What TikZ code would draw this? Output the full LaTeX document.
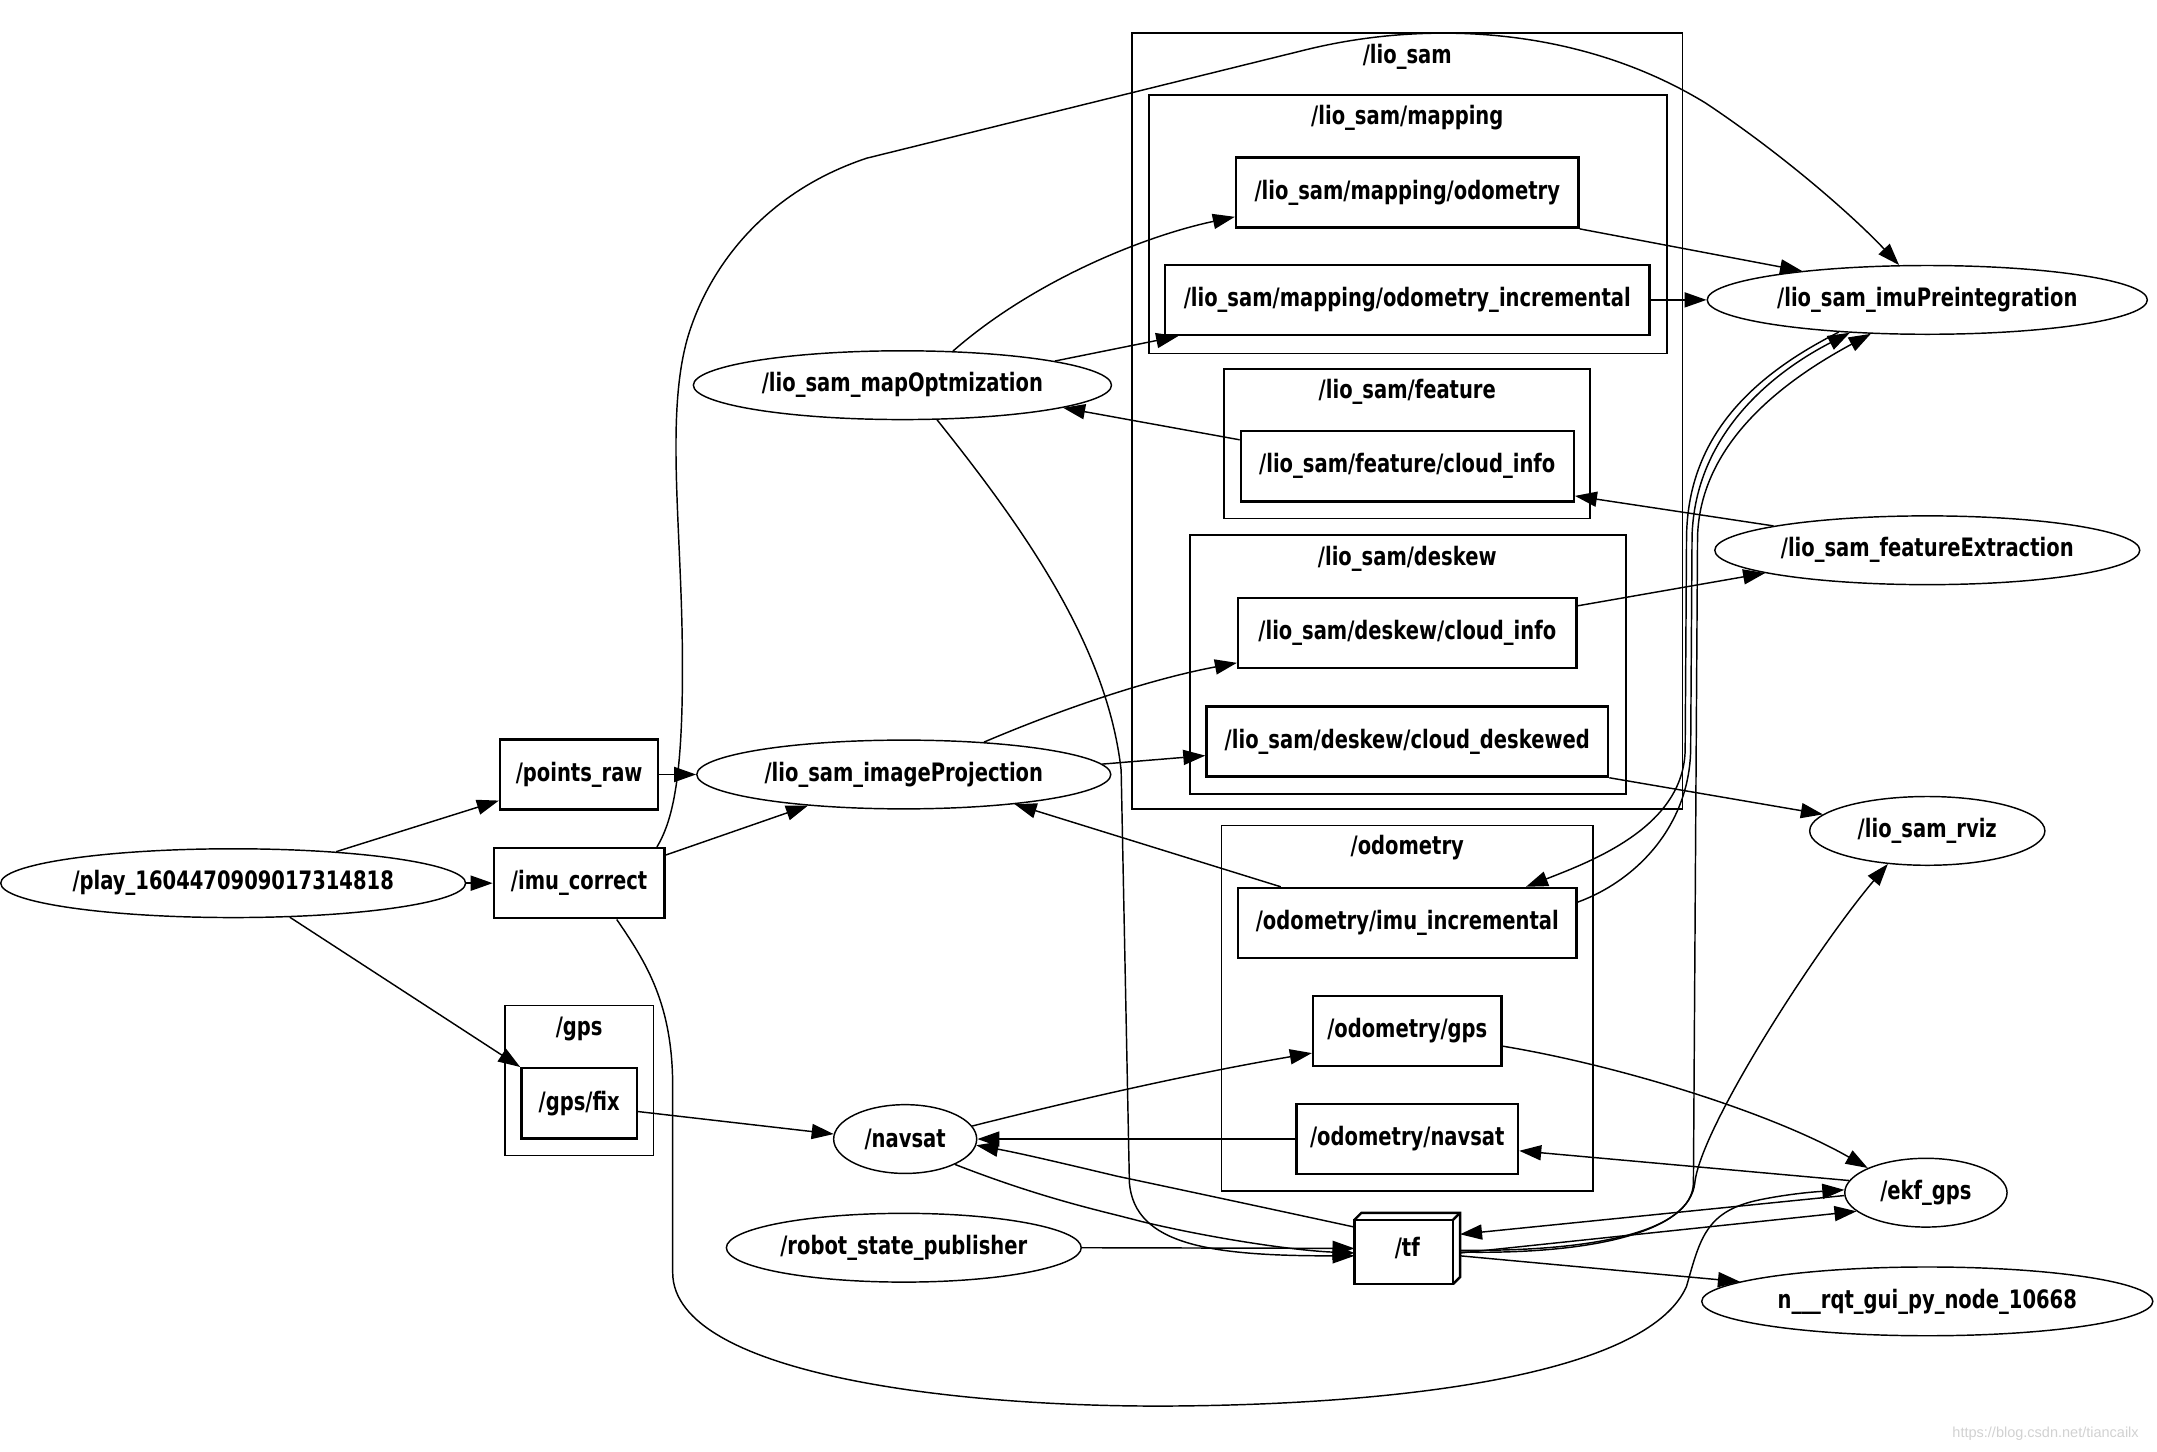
\documentclass[tikz,border=0pt]{standalone}
\usepackage{fontspec}
\usetikzlibrary{shapes.geometric,arrows.meta,calc}
\newfontfamily\graphfont[FakeStretch=0.77]{DejaVu Sans}
\newfontfamily\markfont{Liberation Sans}

\tikzset{
  lbl/.style={font=\graphfont\bfseries\fontsize{10.5}{12}\selectfont},
  topic/.style={lbl, draw, rectangle, line width=1.0pt, minimum height=1.02cm, inner sep=0pt},
  proc/.style={lbl, draw, ellipse, line width=0.6pt, minimum height=1.0cm, inner sep=0pt},
  group/.style={draw, line width=0.7pt},
  wire/.style={line width=0.6pt, -{Triangle[length=0.32cm,width=0.22cm]}},
}

\begin{document}
\begin{tikzpicture}[x=0.02cm, y=-0.02cm]
            \useasboundingbox (0,0) rectangle (1568,1055);

            % Drawing clusters
            \draw [group] (823,24) rectangle (1223,588);%
            \node [lbl] (grp_liosam) at (1023,41) {/lio\_sam};%
            \draw [group] (835,69) rectangle (1212,257);%
            \node [lbl] (grp_mapping) at (1023,86) {/lio\_sam/mapping};%
            \draw [group] (890,268) rectangle (1156,377);%
            \node [lbl] (grp_feature) at (1023,285) {/lio\_sam/feature};%
            \draw [group] (865,389) rectangle (1182,577);%
            \node [lbl] (grp_deskew) at (1023,406) {/lio\_sam/deskew};%
            \draw [group] (888,600) rectangle (1158,866);%
            \node [lbl] (grp_odometry) at (1023,616) {/odometry};%
            \draw [group] (367,731) rectangle (475,840);%
            \node [lbl] (grp_gps) at (421,748) {/gps};%

            % Marking process nodes
            \node [proc, minimum width=6.76cm] (play) at (169.5,642) {/play\_1604470909017314818};%
            \node [proc, minimum width=6.08cm] (mapOpt) at (656,280) {/lio\_sam\_mapOptmization};%
            \node [proc, minimum width=6.02cm] (imageProj) at (657,563) {/lio\_sam\_imageProjection};%
            \node [proc, minimum width=2.08cm] (navsat) at (658,828) {/navsat};%
            \node [proc, minimum width=5.16cm] (robot) at (657,907) {/robot\_state\_publisher};%
            \node [proc, minimum width=6.40cm] (imuPre) at (1401,218) {/lio\_sam\_imuPreintegration};%
            \node [proc, minimum width=6.18cm] (featExt) at (1401,400) {/lio\_sam\_featureExtraction};%
            \node [proc, minimum width=3.42cm] (rviz) at (1401,604) {/lio\_sam\_rviz};%
            \node [proc, minimum width=2.36cm] (ekf_gps) at (1400,867) {/ekf\_gps};%
            \node [proc, minimum width=6.56cm] (rqt) at (1401,946) {n\_\_\_rqt\_gui\_py\_node\_10668};%

            % Marking topic nodes
            \node [topic, minimum width=2.30cm] (points_raw) at (421,563) {/points\_raw};%
            \node [topic, minimum width=2.48cm] (imu_correct) at (421,642) {/imu\_correct};%
            \node [topic, minimum width=1.68cm] (gps_fix) at (421,802) {/gps/fix};%
            \node [topic, minimum width=4.98cm] (map_odom) at (1023,140) {/lio\_sam/mapping/odometry};%
            \node [topic, minimum width=7.04cm] (map_odom_inc) at (1023,218) {/lio\_sam/mapping/odometry\_incremental};%
            \node [topic, minimum width=4.84cm] (feat_cloud) at (1023,339) {/lio\_sam/feature/cloud\_info};%
            \node [topic, minimum width=4.92cm] (desk_cloud) at (1023,460) {/lio\_sam/deskew/cloud\_info};%
            \node [topic, minimum width=5.84cm] (desk_deskewed) at (1023,539) {/lio\_sam/deskew/cloud\_deskewed};%
            \node [topic, minimum width=4.92cm] (imu_incr) at (1023,671) {/odometry/imu\_incremental};%
            \node [topic, minimum width=2.74cm] (odom_gps) at (1023,749.5) {/odometry/gps};%
            \node [topic, minimum width=3.22cm] (odom_navsat) at (1023,828) {/odometry/navsat};%

            % Marking tf as a box
            \node [lbl, minimum width=1.52cm, minimum height=1.02cm, inner sep=0pt] (tf) at (1023,907.5) {/tf};%
            \draw [line width=1.0pt] (tf.south west) rectangle ($(tf.north east)+(-5,5)$);%
            \draw [line width=1.0pt] ($(tf.north west)+(0,5)$) -- ($(tf.north west)+(5,0)$) -- (tf.north east) -- ($(tf.south east)+(0,-5)$) -- ($(tf.south east)+(-5,0)$);%
            \draw [line width=1.0pt] (tf.north east) -- ($(tf.north east)+(-5,5)$);%

            % Drawing edges from play
            \draw [wire] (play.17) -- (points_raw.198);%
            \draw [wire] (play.east) -- (imu_correct.west);%
            \draw [wire] (play.-31) -- (gps_fix.north west);%

            % Drawing edges into imageProjection
            \draw [wire] (points_raw.east) -- (imageProj.west);%
            \draw [wire] (imu_correct.18) -- (imageProj.198);%
            \draw [wire] (imu_incr.164) -- (imageProj.-15);%

            % Drawing long edges from imu_correct
            \draw [wire] (imu_correct.25) .. controls (490,595) and (497,560) .. (496,470)
              .. controls (495,380) and (484,300) .. (500,245)
              .. controls (515,195) and (555,140) .. (630,115)
              -- (950,36)
              .. controls (1040,14) and (1150,20) .. (1240,75)
              .. controls (1300,115) and (1350,160) .. (imuPre.129);%
            \draw [wire] (imu_correct.-44) .. controls (470,700) and (489,730) .. (489,790)
              -- (489,925)
              .. controls (489,1000) and (700,1024) .. (860,1022)
              .. controls (1040,1020) and (1200,995) .. (1226,935)
              .. controls (1236,900) and (1240,880) .. (1280,872)
              .. controls (1305,867) and (1325,866) .. (ekf_gps.178);%

            % Drawing edges of mapOptmization
            \draw [wire] (mapOpt.34) .. controls (750,205) and (830,172) .. (map_odom.188);%
            \draw [wire] (mapOpt.9) -- (map_odom_inc.189);%
            \draw [wire] (feat_cloud.171) -- (mapOpt.-8);%
            \draw [wire] (mapOpt.-45) .. controls (745,385) and (805,470) .. (815,560)
              -- (821,860) .. controls (825,905) and (880,913) .. (tf.188);%

            % Drawing edges of imageProjection
            \draw [wire] (imageProj.22) .. controls (780,512) and (840,493) .. (desk_cloud.190);%
            \draw [wire] (imageProj.3) -- (desk_deskewed.184);%

            % Drawing edges to imuPreintegration
            \draw [wire] (map_odom.south east) -- (imuPre.167);%
            \draw [wire] (map_odom_inc.east) -- (imuPre.west);%
            \draw [wire] (imuPre.200) .. controls (1270,275) and (1227,320) .. (1226,390)
              -- (1225,545) .. controls (1224,600) and (1160,625) .. (imu_incr.17);%
            \draw [wire] (imu_incr.7) .. controls (1190,640) and (1228,600) .. (1229,545)
              -- (1230,390) .. controls (1232,315) and (1290,270) .. (imuPre.203);%
            \draw [wire] (tf.-2) .. controls (1160,910) and (1230,895) .. (1231,860)
              -- (1234,390) .. controls (1236,320) and (1300,275) .. (imuPre.211);%

            % Drawing edges of featureExtraction and rviz
            \draw [wire] (featExt.171) -- (feat_cloud.-10);%
            \draw [wire] (desk_cloud.9) -- (featExt.188);%
            \draw [wire] (desk_deskewed.south east) -- (rviz.171);%
            \draw [wire] (tf.-4) .. controls (1160,912) and (1228,895) .. (1232,860)
              .. controls (1236,820) and (1320,690) .. (rviz.220);%

            % Drawing edges of navsat
            \draw [wire] (gps_fix.-8) -- (navsat.176);%
            \draw [wire] (navsat.11) .. controls (800,795) and (880,778) .. (odom_gps.193);%
            \draw [wire] (odom_navsat.west) -- (navsat.east);%
            \draw [wire] (navsat.-27) .. controls (760,872) and (800,880) .. (830,888)
              .. controls (880,900) and (940,909) .. (tf.185);%
            \draw [wire] (tf.158) .. controls (920,878) and (850,863) .. (812,855)
              .. controls (770,845) and (740,838) .. (navsat.-5);%

            % Drawing edges of ekf_gps and tf
            \draw [wire] (odom_gps.-9) .. controls (1180,775) and (1290,810) .. (ekf_gps.157);%
            \draw [wire] (ekf_gps.171) -- (odom_navsat.-6);%
            \draw [wire] (robot.east) -- (tf.west);%
            \draw [wire] (ekf_gps.182) -- (tf.15);%
            \draw [wire] (tf.-5) -- (ekf_gps.195);%
            \draw [wire] (tf.-8) -- (rqt.174);%

            % Marking watermark
            \node [font=\markfont\fontsize{6}{7}\selectfont, text=black!18] (mark) at (1487,1042) {https://blog.csdn.net/tiancailx};%
\end{tikzpicture}
\end{document}
